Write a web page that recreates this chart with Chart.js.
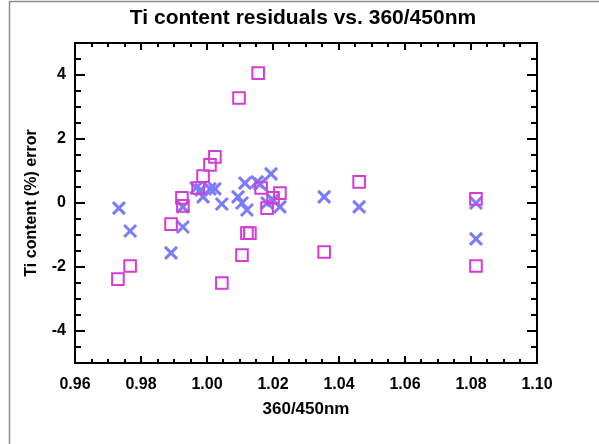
<!DOCTYPE html>
<html>
<head>
<meta charset="utf-8">
<script src="https://cdn.jsdelivr.net/npm/chart.js@4/dist/chart.umd.min.js"></script>
<style>
  html, body { margin: 0; padding: 0; background: #ffffff; }
  #wrap { width: 599px; height: 444px; position: relative; }
</style>
</head>
<body>
<div id="wrap"><canvas id="residualChart" width="599" height="444"></canvas></div>
<script>
// ============================================================================
// DATA
// ============================================================================

const chartTitle = 'Ti content residuals vs. 360/450nm';

// magenta squares
const squareX = [0.9730, 0.9767, 0.9891, 0.9924, 0.9927, 0.9973, 0.9988, 1.0009, 1.0024,
                 1.0045, 1.0097, 1.0155, 1.0106, 1.0121, 1.0130, 1.0164, 1.0182, 1.0200,
                 1.0221, 1.0355, 1.0461, 1.0815, 1.0815];
const squareY = [-2.38, -1.97, -0.66, 0.16, -0.09, 0.47, 0.84, 1.19, 1.44,
                 -2.50, 3.28, 4.06, -1.63, -0.94, -0.94, 0.47, -0.16, 0.16,
                 0.31, -1.53, 0.66, 0.13, -1.97];

// blue crosses
const crossX = [0.9733, 0.9767, 0.9891, 0.9927, 0.9927, 0.9967, 0.9982, 0.9988, 1.0009,
                1.0024, 1.0045, 1.0094, 1.0106, 1.0115, 1.0121, 1.0152, 1.0161, 1.0194,
                1.0182, 1.0200, 1.0221, 1.0355, 1.0461, 1.0815, 1.0815];
const crossY = [-0.16, -0.875, -1.56, -0.12, -0.75, 0.47, 0.41, 0.19, 0.44,
                0.44, -0.03, 0.19, 0.00, 0.62, -0.22, 0.66, 0.59, 0.91,
                0.00, 0.09, -0.12, 0.19, -0.12, 0.00, -1.12];

const xTicks = [0.96, 0.98, 1.00, 1.02, 1.04, 1.06, 1.08, 1.10];
const yTicks = [-4, -2, 0, 2, 4];

const FONT = "'Liberation Sans', Arial, Helvetica, sans-serif";

// ============================================================================
// PLUGINS
// ============================================================================

// box around plot with inward major/minor ticks on all four sides, plus title
const boxTicks = {
    id: 'boxTicks',
    afterDraw(chart) {
        const { ctx, chartArea: a, scales: { x, y } } = chart;
        ctx.save();
        ctx.strokeStyle = '#000';
        ctx.lineWidth = 2;
        ctx.lineCap = 'butt';

        // x ticks every 0.005, major every 0.02
        for (let i = 0; i <= 28; i++) {
            const px = Math.round(x.getPixelForValue(0.96 + i * 0.005));
            const len = (i % 4 === 0) ? 7 : 4;
            ctx.beginPath();
            ctx.moveTo(px, a.bottom); ctx.lineTo(px, a.bottom - len);
            ctx.moveTo(px, a.top); ctx.lineTo(px, a.top + len);
            ctx.stroke();
        }
        // y ticks every 0.5, major every 2
        for (let i = 0; i <= 20; i++) {
            const v = -5 + i * 0.5;
            const py = Math.round(y.getPixelForValue(v));
            const len = (Math.abs(v % 2) < 1e-9) ? 10 : 6;
            ctx.beginPath();
            ctx.moveTo(a.left, py); ctx.lineTo(a.left + len, py);
            ctx.moveTo(a.right, py); ctx.lineTo(a.right - len, py);
            ctx.stroke();
        }
        ctx.strokeRect(a.left, a.top, a.right - a.left, a.bottom - a.top);

        // title (centred on the page, not the plot)
        ctx.fillStyle = '#000';
        ctx.font = 'bold 21px ' + FONT;
        ctx.textAlign = 'center';
        ctx.textBaseline = 'middle';
        ctx.fillText(chartTitle, 303, 18);

        // grey page frame (left + top edge)
        ctx.strokeStyle = '#8c8c8c';
        ctx.lineWidth = 1.5;
        ctx.beginPath();
        ctx.moveTo(9.5, 444); ctx.lineTo(9.5, 1.5); ctx.lineTo(599, 1.5);
        ctx.stroke();
        ctx.restore();
    }
};

// ============================================================================
// CHART
// ============================================================================

function toPoints(xs, ys) {
    return xs.map((v, i) => ({ x: v, y: ys[i] }));
}

new Chart(document.getElementById('residualChart'), {
    type: 'scatter',
    data: {
        datasets: [
            {
                label: 'squares',
                data: toPoints(squareX, squareY),
                pointStyle: 'rect',
                pointRadius: 8.2,
                pointBorderWidth: 2,
                pointBorderColor: '#d43cd4',
                pointBackgroundColor: 'rgba(0,0,0,0)'
            },
            {
                label: 'crosses',
                data: toPoints(crossX, crossY),
                pointStyle: 'crossRot',
                pointRadius: 8.5,
                pointBorderWidth: 3,
                pointBorderColor: '#7c7cfa',
                pointBackgroundColor: 'rgba(0,0,0,0)'
            }
        ]
    },
    options: {
        responsive: false,
        animation: false,
        layout: { padding: { left: 0, right: 62, top: 43, bottom: 0 } },
        plugins: {
            legend: { display: false },
            tooltip: { enabled: false },
            title: { display: false }
        },
        scales: {
            x: {
                type: 'linear',
                min: 0.96,
                max: 1.10,
                afterBuildTicks: s => { s.ticks = xTicks.map(v => ({ value: v })); },
                afterFit: s => { s.height = 81; },
                grid: { display: false, drawTicks: false },
                border: { display: false },
                ticks: {
                    padding: 12,
                    color: '#000',
                    maxRotation: 0,
                    font: { family: FONT, size: 16, weight: 'bold' },
                    callback: v => Number(v).toFixed(2)
                },
                title: {
                    display: true,
                    text: '360/450nm',
                    color: '#000',
                    font: { family: FONT, size: 17, weight: 'bold', lineHeight: 1.2 },
                    padding: { top: 0, bottom: 24 }
                }
            },
            y: {
                type: 'linear',
                min: -5,
                max: 5,
                afterBuildTicks: s => { s.ticks = yTicks.map(v => ({ value: v })); },
                afterFit: s => { s.width = 75; },
                grid: { display: false, drawTicks: false },
                border: { display: false },
                ticks: {
                    padding: 9,
                    color: '#000',
                    font: { family: FONT, size: 16, weight: 'bold' },
                    callback: v => String(v)
                },
                title: {
                    display: true,
                    text: 'Ti content (%) error',
                    color: '#000',
                    font: { family: FONT, size: 16, weight: 'bold', lineHeight: 1.2 },
                    padding: { top: 22, bottom: 0 }
                }
            }
        }
    },
    plugins: [boxTicks]
});
</script>
</body>
</html>
